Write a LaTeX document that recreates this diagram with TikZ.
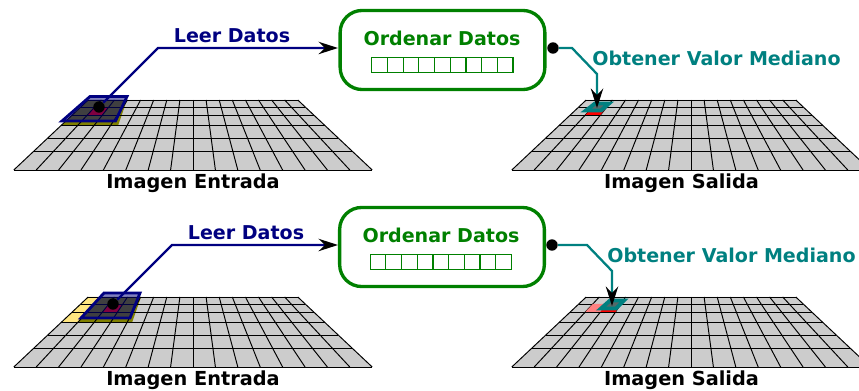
\documentclass[tikz,border=0pt]{standalone}
\usepackage{fontspec}
\setmainfont{DejaVu Sans}
\usetikzlibrary{arrows.meta, positioning, calc}

\definecolor{azul}{RGB}{0,0,128}
\definecolor{verde}{RGB}{0,128,0}
\definecolor{teal2}{RGB}{0,128,128}
\definecolor{amarillo}{RGB}{255,230,128}
\definecolor{oliva}{RGB}{128,128,0}
\definecolor{rosa}{RGB}{255,128,128}
\definecolor{hueco}{RGB}{85,105,105}

% perspective grid, named corners #1-i-j
\newcommand{\rejilla}[3]{
  \foreach \j/\yy in {0/0,1/7,2/15,3/25.7,4/38,5/51.7,6/70} {
    \foreach \i in {0,...,16} {
      \pgfmathsetmacro{\xx}{#2+(\i-8)*(13.1+9.3*\yy/70)}
      \coordinate (#1-\i-\j) at (\xx, #3+\yy);
    }
  }
  \fill[gray!40] (#1-0-0) -- (#1-16-0) -- (#1-16-6) -- (#1-0-6) -- cycle;
}
\newcommand{\lineas}[1]{
  \foreach \j in {0,...,6} { \draw[linea] (#1-0-\j) -- (#1-16-\j); }
  \foreach \i in {0,...,16} { \draw[linea] (#1-\i-0) -- (#1-\i-6); }
}
\newcommand{\celda}[4]{
  \pgfmathtruncatemacro{\ia}{#2+1}
  \pgfmathtruncatemacro{\ja}{#3+1}
  \fill[#4] (#1-#2-#3) -- (#1-\ia-#3) -- (#1-\ia-\ja) -- (#1-#2-\ja) -- cycle;
}

\begin{document}
\begin{tikzpicture}[
    x=0.02cm, y=-0.02cm,
    punta/.style={-{Stealth[length=11pt, width=7pt, inset=3.5pt, color=black]}},
    linea/.style={black, line width=0.55pt},
    titulo/.style={font=\fontsize{10.85}{12}\selectfont\bfseries, inner sep=0pt},
    pie/.style={font=\fontsize{11}{12}\selectfont\bfseries, inner sep=0pt, black},
    caja/.style={draw=verde, line width=1.9pt, rounded corners=12.5pt, fill=white,
                 minimum width=116.5pt, minimum height=45pt},
    casilla/.style={draw=verde, line width=0.65pt, minimum width=8.9pt,
                    minimum height=9pt, inner sep=0pt},
    punto/.style={circle, fill=black, minimum size=6.5pt, inner sep=0pt},
    leer/.style={azul, line width=1.3pt, punta},
    valor/.style={teal2, line width=1.3pt, punta},
    ventana/.style={draw=azul, line width=1.6pt, fill=azul, fill opacity=0.5},
    ventanab/.style={draw=teal2, line width=2.2pt, fill=hueco}
  ]
  \useasboundingbox (0,0) rectangle (859,391);
  \clip (0,0) rectangle (859,391);

  % Top row: grids
  \rejilla{ea}{193}{100}
  \rejilla{sa}{691}{100}
  \fill[oliva] (88,100) -- (127,100) -- (118,125.7) -- (61,125.7) -- cycle;
  \celda{ea}{1}{1}{red}
  \lineas{ea}
  \lineas{sa}
  \celda{sa}{1}{1}{red}

  % Bottom row: grids
  \rejilla{eb}{193}{297}
  \rejilla{sb}{691}{297}
  \foreach \j in {0,1,2} { \celda{eb}{0}{\j}{amarillo} }
  \fill[oliva] (101,297) -- (141,297) -- (132,322.7) -- (77.5,322.7) -- cycle;
  \celda{eb}{2}{1}{red}
  \lineas{eb}
  \lineas{sb}
  \celda{sb}{1}{1}{rosa}
  \celda{sb}{2}{1}{red}

  % Windows
  \draw[ventana] (90,96.5) -- (127,96.5) -- (115.5,121) -- (62,121) -- cycle;
  \draw[ventana] (104,293) -- (140,293) -- (130,318) -- (81,318) -- cycle;
  \draw[ventanab] (595,103.5) -- (609,103.5) -- (601,110.5) -- (586,110.5) -- cycle;
  \draw[ventanab] (610,300.5) -- (624,300.5) -- (616,308.5) -- (601,308.5) -- cycle;

  % Top row: process
  \node[caja] (cajaa) at (442.5,50) {};
  \node[titulo, verde] (ordenara) at (442,38) {Ordenar Datos};
  \foreach \k in {0,...,8} {
    \node[casilla] (ca\k) at (379.6+15.7*\k,65) {};
  }
  \node[punto] (entradaa) at (99,107) {};
  \node[punto] (salidaa) at (553,48) {};
  \coordinate (finleera) at (338,48);
  \coordinate (finvalora) at (597,108);
  \draw[leer] (entradaa) -- (158,48) -- (finleera);
  \draw[valor] (salidaa) -- (572,48) -- (597,74) -- (finvalora);
  \node[titulo, azul] (leera) at (232,36) {Leer Datos};
  \node[titulo, teal2, anchor=west] (valora) at (592,58) {Obtener Valor Mediano};
  \node[pie] (imga) at (193,183) {Imagen Entrada};
  \node[pie] (saa) at (681.5,183) {Imagen Salida};

  % Bottom row: process
  \node[caja] (cajab) at (442,247) {};
  \node[titulo, verde] (ordenarb) at (441,235) {Ordenar Datos};
  \foreach \k in {0,...,8} {
    \node[casilla] (cb\k) at (378+15.7*\k,262) {};
  }
  \node[punto] (entradab) at (113,304) {};
  \node[punto] (salidab) at (552,245) {};
  \coordinate (finleerb) at (338,245);
  \coordinate (finvalorb) at (612,306);
  \draw[leer] (entradab) -- (172,245) -- (finleerb);
  \draw[valor] (salidab) -- (587,245) -- (612,271) -- (finvalorb);
  \node[titulo, azul] (leerb) at (246,233) {Leer Datos};
  \node[titulo, teal2, anchor=west] (valorb) at (607,255) {Obtener Valor Mediano};
  \node[pie] (imgb) at (193,380) {Imagen Entrada};
  \node[pie] (sab) at (681.5,380) {Imagen Salida};
\end{tikzpicture}
\end{document}
